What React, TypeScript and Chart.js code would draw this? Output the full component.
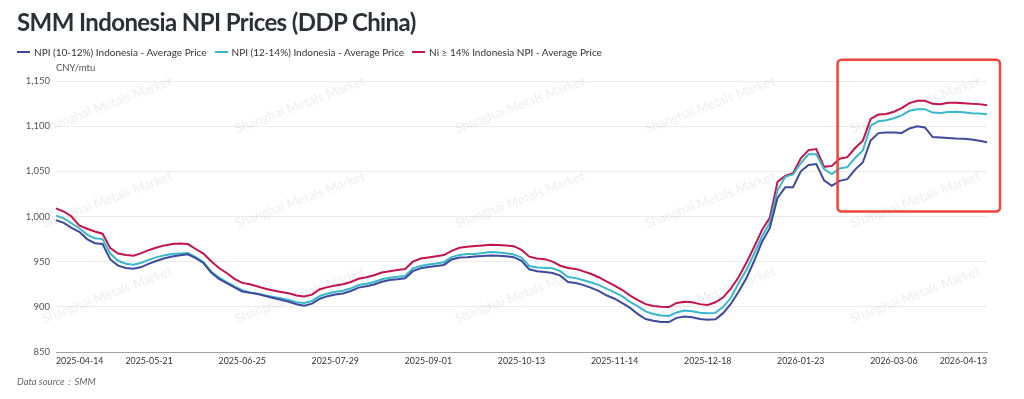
import React, { useEffect, useRef } from "react";
import { Chart, registerables } from "chart.js";

Chart.register(...registerables);

// ---- data ----
const tickLabels = [
  "2025-04-14", "2025-05-21", "2025-06-25", "2025-07-29", "2025-09-01", "2025-10-13",
  "2025-11-14", "2025-12-18", "2026-01-23", "2026-03-06", "2026-04-13",
];
const pointsPerTick = 12;

const npi1012 = [
  996, 993, 987.5, 983, 975, 970.4, 969.6, 952.5, 945.6, 943,
  942.1, 944, 947.8, 951, 953.8, 955.7, 957, 958.2, 954, 948.5,
  938, 931, 926.3, 921.5, 917, 915.5, 914.3, 912, 909.8, 907.8,
  905.7, 902.8, 901.2, 903.5, 909, 911.8, 913.6, 914.8, 917.5, 921.3,
  922.8, 924.7, 927.7, 929.6, 930.5, 931.6, 939.5, 942.7, 944.1, 945.2,
  946.4, 952.5, 954.5, 955, 955.7, 956.3, 956.9, 956.5, 956, 955,
  951, 941.5, 939.4, 938.5, 937.5, 934.5, 927.5, 926.3, 924, 921,
  917.5, 912.5, 909, 904, 898.8, 892, 886.5, 884.5, 883.2, 883.2,
  887.8, 889.3, 888.5, 886.5, 885.7, 886.3, 893, 903.5, 917, 932,
  951, 972, 987, 1020.5, 1032.5, 1032.5, 1050, 1057, 1058, 1040,
  1034, 1039.5, 1041.3, 1051.9, 1060, 1084, 1092.3, 1093, 1093, 1092.5,
  1097.5, 1100, 1098.6, 1087.9, 1087.5, 1087, 1086.4, 1086, 1085.2, 1083.8,
  1082.3,
];

const npi1214 = [
  1001, 998, 992.5, 987, 980, 976, 975, 959, 951, 947.8,
  946.6, 948.8, 952.3, 955, 957, 958.6, 959, 959.5, 955, 949.5,
  939, 932.5, 927.4, 922.6, 918.5, 916, 914.6, 912.5, 911, 909.5,
  907.5, 905, 904.2, 906.5, 912, 914.8, 916.6, 917.8, 920.5, 924.2,
  925.6, 927.5, 930.5, 932.3, 933.3, 934.2, 942.5, 945.3, 946.9, 948,
  949.4, 955, 957.5, 958.4, 958.6, 959.5, 960.6, 960.2, 959.3, 958,
  954.5, 945.2, 943.6, 943.2, 942.7, 939.5, 933, 931.8, 929.5, 927,
  924, 919.8, 916, 911.5, 905.5, 900.5, 895, 892, 890.5, 890,
  893.8, 895.8, 895, 893.5, 893, 893.3, 900, 910, 926.5, 941,
  959, 978, 993, 1029, 1044, 1046.5, 1059, 1068.8, 1069, 1052.5,
  1047, 1053.2, 1054.6, 1064.8, 1073, 1100.5, 1105.4, 1106.5, 1108.8, 1112,
  1117, 1118.8, 1118.8, 1115, 1114.7, 1115.8, 1115.9, 1115.5, 1114.4, 1113.9,
  1113.3,
];

const npi14 = [
  1009, 1005.5, 1000, 990, 986.5, 983.4, 981, 965, 959, 957.3,
  956.5, 959.5, 963, 965.7, 968, 969.5, 970, 969.5, 964, 959,
  950.5, 943, 937.5, 931, 926.5, 925, 922.5, 920, 918, 916.5,
  915, 912.5, 911.5, 913.5, 919.5, 921.8, 923.5, 925, 927.5, 931,
  932.8, 935, 938, 939.5, 940.8, 941.8, 950, 953.5, 954.7, 956,
  957.3, 962, 965.3, 966.5, 967.4, 968, 968.7, 968.4, 968, 967.2,
  963, 955.5, 953.6, 952.8, 950, 945.5, 943, 942, 939.3, 936.3,
  932.5, 927.8, 923.5, 918.6, 912.5, 907.5, 903, 901, 900.2, 899.8,
  904.3, 905.5, 905, 903, 902, 905, 910.5, 920.5, 933, 949,
  966.5, 985, 998.5, 1038.5, 1045, 1048, 1064.5, 1073.5, 1074.6, 1055,
  1056, 1064, 1065.7, 1075.8, 1084, 1108, 1112.8, 1113.5, 1116, 1120,
  1125.5, 1128, 1128, 1124.7, 1124.3, 1126, 1125.8, 1125.3, 1124.7, 1124.4,
  1123.2,
];

const seriesNames = [
  "NPI (10-12%) Indonesia - Average Price",
  "NPI (12-14%) Indonesia - Average Price",
  "Ni ≥ 14% Indonesia NPI - Average Price",
];
const seriesColors = ["#3e4a9c", "#38b8cc", "#c3144c"];
const seriesData = [npi1012, npi1214, npi14];

const yMin = 850;
const yMax = 1150;
const yStep = 50;

const titleText = "SMM Indonesia NPI Prices (DDP China)";
const unitText = "CNY/mtu";
const sourceText = "Data source：SMM";
const watermarkText = "Shanghai Metals Market";

const FONT = "Lato, 'Noto Sans', sans-serif";

const categories = npi1012.map((_, i) =>
  i % pointsPerTick === 0 ? tickLabels[i / pointsPerTick] : ""
);

const watermarkPlugin = {
  id: "watermark",
  beforeDatasetsDraw(chart: any) {
    const ctx = chart.ctx;
    ctx.save();
    ctx.font = "13px " + FONT;
    ctx.fillStyle = "rgba(150,150,150,0.17)";
    ctx.textAlign = "center";
    ctx.textBaseline = "middle";
    const cols = [107, 300, 520, 710, 915];
    const rows = [105, 200, 295];
    for (const cy of rows) {
      for (const cx of cols) {
        ctx.save();
        ctx.translate(cx, cy);
        ctx.rotate(-0.36);
        ctx.fillText(watermarkText, 0, 0);
        ctx.restore();
      }
    }
    ctx.restore();
  },
};

const highlightPlugin = {
  id: "highlightBox",
  afterDraw(chart: any) {
    const { ctx, scales, chartArea } = chart;
    const left = scales.x.getPixelForValue(101) - 2;
    const right = chartArea.right + 13;
    const top = scales.y.getPixelForValue(1173.5);
    const bottom = scales.y.getPixelForValue(1005.5);
    ctx.save();
    ctx.strokeStyle = "#f0443c";
    ctx.lineWidth = 2.5;
    ctx.beginPath();
    (ctx as any).roundRect(left, top, right - left, bottom - top, 4);
    ctx.stroke();
    ctx.restore();
  },
};

export default function App() {
  const canvasRef = useRef<HTMLCanvasElement | null>(null);

  useEffect(() => {
    if (!canvasRef.current) return;
    Chart.defaults.font.family = FONT;
    const chart = new Chart(canvasRef.current, {
      type: "line",
      data: {
        labels: categories,
        datasets: seriesData.map((d, k) => ({
          label: seriesNames[k],
          data: d,
          borderColor: seriesColors[k],
          backgroundColor: seriesColors[k],
          borderWidth: 2,
          pointRadius: 0,
          tension: 0,
        })),
      },
      options: {
        animation: false,
        responsive: false,
        maintainAspectRatio: false,
        layout: { padding: { top: 81, right: 37, left: 0, bottom: 0 } },
        plugins: {
          legend: { display: false },
          tooltip: { enabled: false },
          title: { display: false },
        },
        scales: {
          x: {
            type: "category",
            afterFit: (s: any) => {
              s.height = 47;
            },
            grid: { display: false, drawTicks: false },
            border: { display: true, color: "#9ea2aa", width: 1 },
            ticks: {
              autoSkip: false,
              maxRotation: 0,
              minRotation: 0,
              align: "inner",
              padding: 4,
              color: "#333",
              font: { size: 8.8 },
              callback: (_v: any, i: number) => categories[i],
            },
          },
          y: {
            min: yMin,
            max: yMax,
            afterFit: (s: any) => {
              s.width = 56;
            },
            grid: { color: "#ebebeb", drawTicks: false },
            border: { display: false },
            ticks: {
              stepSize: yStep,
              padding: 6,
              color: "#555",
              font: { size: 9.5 },
              callback: (v: any) => Number(v).toLocaleString("en-US"),
            },
          },
        },
      },
      plugins: [watermarkPlugin, highlightPlugin],
    } as any);
    return () => chart.destroy();
  }, []);

  return (
    <div
      style={{
        position: "absolute",
        left: 0,
        top: 0,
        width: 1024,
        height: 399,
        background: "#fff",
        overflow: "hidden",
        fontFamily: FONT,
      }}
    >
      <canvas
        ref={canvasRef}
        width={1024}
        height={399}
        style={{ position: "absolute", left: 0, top: 0, width: 1024, height: 399 }}
      />
      <div
        style={{
          position: "absolute",
          left: 17,
          top: 8,
          fontSize: 24,
          lineHeight: "28px",
          fontWeight: 700,
          letterSpacing: -0.6,
          color: "#2b2f36",
          whiteSpace: "nowrap",
        }}
      >
        {titleText}
      </div>
      <div
        style={{
          position: "absolute",
          left: 17,
          top: 45,
          height: 14,
          display: "flex",
          alignItems: "center",
          fontSize: 10,
          color: "#333",
          whiteSpace: "nowrap",
        }}
      >
        {seriesNames.map((n, k) => (
          <div key={k} style={{ display: "flex", alignItems: "center", marginRight: 8 }}>
            <span
              style={{
                display: "inline-block",
                width: 13,
                height: 2,
                background: seriesColors[k],
                marginRight: 4,
              }}
            />
            <span>{n}</span>
          </div>
        ))}
      </div>
      <div
        style={{
          position: "absolute",
          left: 56,
          top: 62,
          fontSize: 9.5,
          lineHeight: "12px",
          color: "#555",
        }}
      >
        {unitText}
      </div>
      <div
        style={{
          position: "absolute",
          left: 17,
          top: 376,
          fontSize: 9.5,
          lineHeight: "12px",
          fontStyle: "italic",
          color: "#666",
        }}
      >
        {sourceText}
      </div>
    </div>
  );
}
